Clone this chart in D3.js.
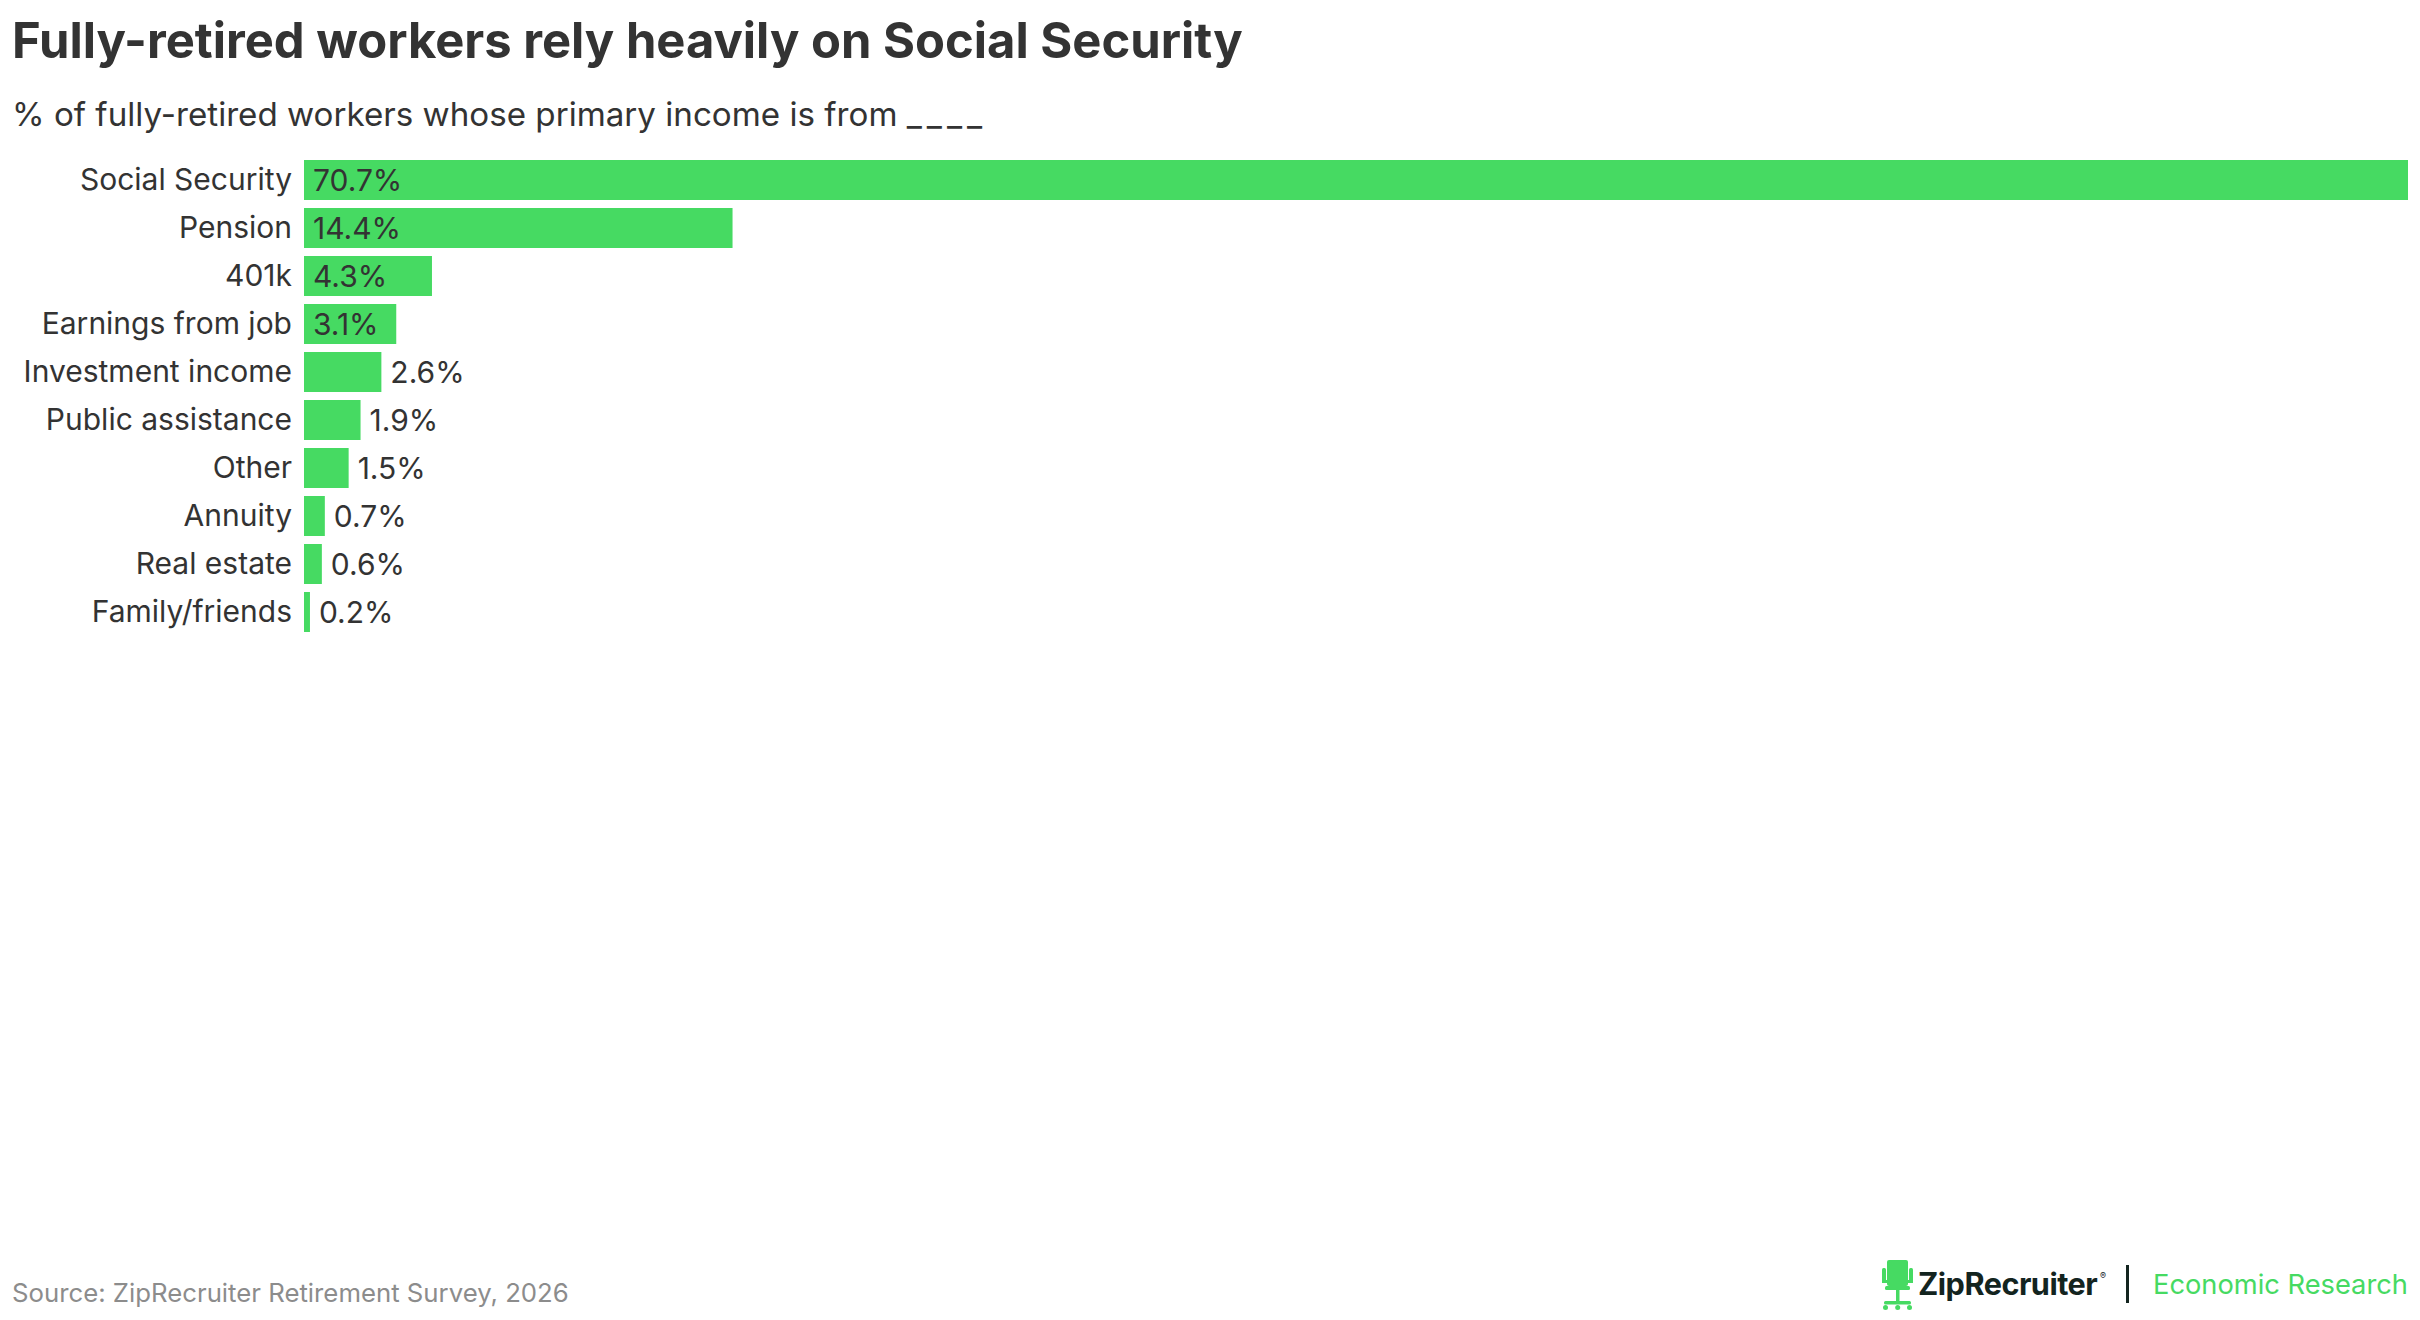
<!DOCTYPE html>
<html>
<head>
<meta charset="utf-8">
<script src="https://cdn.jsdelivr.net/npm/d3@7"></script>
<style>
  body { margin: 0; background: #fff; }
  svg { display: block; font-family: Inter, "Noto Sans", sans-serif; }
</style>
</head>
<body>
<svg id="chart" width="2420" height="1320"></svg>
<script>
// data
const categories = ["Social Security", "Pension", "401k", "Earnings from job", "Investment income",
                    "Public assistance", "Other", "Annuity", "Real estate", "Family/friends"];
const shares     = [70.7, 14.4, 4.3, 3.1, 2.6, 1.9, 1.5, 0.7, 0.6, 0.2];

const title    = "Fully-retired workers rely heavily on Social Security";
const subtitle = "% of fully-retired workers whose primary income is from ";
const blank    = "____";
const source   = "Source: ZipRecruiter Retirement Survey, 2026";

const green = "#46da62",
      ink   = "#333333";

const svg = d3.select("#chart");
svg.append("rect").attr("width", 2420).attr("height", 1320).attr("fill", "#fff");

// shrink/grow a text so it spans a given width
function fitWidth(sel, target) {
  const n = sel.node();
  const fs = parseFloat(sel.style("font-size"));
  const w = n.getComputedTextLength();
  sel.style("font-size", (fs * target / w).toFixed(2) + "px");
  return sel;
}

fitWidth(svg.append("text")
    .attr("x", 12).attr("y", 58)
    .style("font-size", "50px").style("font-weight", 700)
    .attr("fill", ink).text(title), 1231);

const sub = svg.append("text")
    .attr("x", 12).attr("y", 126)
    .style("font-size", "34px")
    .attr("fill", ink);
sub.append("tspan").text(subtitle);
sub.append("tspan").style("letter-spacing", "5px").text(blank);
fitWidth(sub, 975);

const data = categories.map((c, i) => ({cat: c, val: shares[i]}));

const x = d3.scaleLinear().domain([0, d3.max(shares)]).range([304, 2408]);
const y = d3.scaleBand().domain(categories).range([156, 636])
            .paddingInner(1 / 6).paddingOuter(1 / 12);

svg.append("g")
    .attr("transform", `translate(${x(0)},0)`)
    .call(d3.axisLeft(y).tickSize(0).tickPadding(12))
    .call(g => g.select(".domain").remove())
    .call(g => g.selectAll("text")
        .attr("fill", ink)
        .style("font-size", "30px")
        .style("font-family", "Inter, 'Noto Sans', sans-serif"));

svg.selectAll(".bar")
  .data(data)
  .enter().append("rect")
    .attr("class", "bar")
    .attr("fill", green)
    .attr("x", x(0))
    .attr("y", d => y(d.cat))
    .attr("width", d => x(d.val) - x(0))
    .attr("height", y.bandwidth());

svg.selectAll(".val")
  .data(data)
  .enter().append("text")
    .attr("class", "val")
    .attr("fill", ink)
    .style("font-size", "30px")
    .attr("y", d => y(d.cat) + y.bandwidth() / 2)
    .attr("dy", "0.35em")
    .text(d => d.val.toFixed(1) + "%")
    .each(function(d) {
      const w = this.getComputedTextLength();
      const barW = x(d.val) - x(0);
      d3.select(this).attr("x", w + 18 < barW ? x(0) + 9 : x(d.val) + 9);
    });

// footer
fitWidth(svg.append("text")
    .attr("x", 12).attr("y", 1302)
    .style("font-size", "27px")
    .attr("fill", "#8c8c8c").text(source), 557);

// ZipRecruiter mark: little chair
const logo = svg.append("g").attr("fill", green);
logo.append("rect").attr("x", 1887).attr("y", 1260).attr("width", 21).attr("height", 26).attr("rx", 2);
logo.append("rect").attr("x", 1882).attr("y", 1268).attr("width", 4).attr("height", 14).attr("rx", 1.5);
logo.append("rect").attr("x", 1909).attr("y", 1268).attr("width", 4).attr("height", 14).attr("rx", 1.5);
logo.append("rect").attr("x", 1882).attr("y", 1280).attr("width", 31).attr("height", 3);
logo.append("rect").attr("x", 1885).attr("y", 1286).attr("width", 25).attr("height", 4).attr("rx", 1.5);
logo.append("rect").attr("x", 1896).attr("y", 1290).attr("width", 3.5).attr("height", 13);
logo.append("rect").attr("x", 1884).attr("y", 1301).attr("width", 27).attr("height", 3.5).attr("rx", 1.5);
logo.append("circle").attr("cx", 1885.5).attr("cy", 1307.5).attr("r", 2.5);
logo.append("circle").attr("cx", 1909.5).attr("cy", 1307.5).attr("r", 2.5);
logo.append("circle").attr("cx", 1897.7).attr("cy", 1307.5).attr("r", 2.5);

fitWidth(svg.append("text")
    .attr("x", 1918).attr("y", 1295)
    .style("font-size", "34px").style("font-weight", 700)
    .style("letter-spacing", "-0.5px")
    .attr("fill", "#13241f").text("ZipRecruiter"), 180);
svg.append("text")
    .attr("x", 2100).attr("y", 1279)
    .style("font-size", "9px")
    .attr("fill", "#13241f").text("®");

svg.append("rect")
    .attr("x", 2126).attr("y", 1265).attr("width", 3).attr("height", 38)
    .attr("fill", "#13241f");

fitWidth(svg.append("text")
    .attr("x", 2153).attr("y", 1294)
    .style("font-size", "27px")
    .attr("fill", green).text("Economic Research"), 255);
</script>
</body>
</html>
